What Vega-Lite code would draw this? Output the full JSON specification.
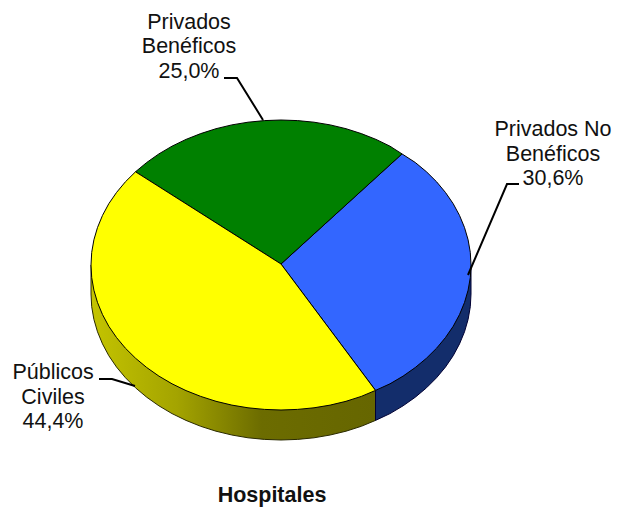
{"$schema":"https://vega.github.io/schema/vega-lite/v6.json","width":617,"height":513,"autosize":{"type":"fit","contains":"padding"},"padding":0,"background":"white","view":{"stroke":null},
"datasets":{
"sideY":[{"p":0,"x":281,"y":264},{"p":1,"x":91,"y":265},{"p":2,"x":91,"y":294},{"p":3,"x":91.7,"y":306.7},{"p":4,"x":93.9,"y":319.4},{"p":5,"x":97.5,"y":331.8},{"p":6,"x":102.5,"y":343.9},{"p":7,"x":108.8,"y":355.7},{"p":8,"x":116.5,"y":367},{"p":9,"x":125.4,"y":377.7},{"p":10,"x":135.5,"y":387.8},{"p":11,"x":146.7,"y":397.2},{"p":12,"x":158.9,"y":405.8},{"p":13,"x":172,"y":413.6},{"p":14,"x":186,"y":420.4},{"p":15,"x":200.7,"y":426.3},{"p":16,"x":216,"y":431.2},{"p":17,"x":231.8,"y":435},{"p":18,"x":248,"y":437.8},{"p":19,"x":264.4,"y":439.4},{"p":20,"x":281,"y":440},{"p":21,"x":297.6,"y":439.4},{"p":22,"x":314,"y":437.8},{"p":23,"x":330.2,"y":435},{"p":24,"x":346,"y":431.2},{"p":25,"x":361.3,"y":426.3},{"p":26,"x":375.5,"y":420.4},{"p":27,"x":375.5,"y":390.4},{"p":28,"x":281,"y":264}],
"sideB":[{"p":0,"x":281,"y":264},{"p":1,"x":375.5,"y":390.4},{"p":2,"x":375.5,"y":420.4},{"p":3,"x":390,"y":413.6},{"p":4,"x":403.1,"y":405.8},{"p":5,"x":415.3,"y":397.2},{"p":6,"x":426.5,"y":387.8},{"p":7,"x":436.6,"y":377.7},{"p":8,"x":445.5,"y":367},{"p":9,"x":453.2,"y":355.7},{"p":10,"x":459.5,"y":343.9},{"p":11,"x":464.5,"y":331.8},{"p":12,"x":468.1,"y":319.4},{"p":13,"x":470.3,"y":306.7},{"p":14,"x":471,"y":294},{"p":15,"x":471,"y":265},{"p":16,"x":281,"y":264}],
"top":[
{"s":"Privados No Benéficos","p":0,"x":281,"y":264},{"s":"Privados No Benéficos","p":1,"x":402,"y":153.9},{"s":"Privados No Benéficos","p":2,"x":415.3,"y":162.5},{"s":"Privados No Benéficos","p":3,"x":426.5,"y":171.8},{"s":"Privados No Benéficos","p":4,"x":436.6,"y":181.8},{"s":"Privados No Benéficos","p":5,"x":445.5,"y":192.5},{"s":"Privados No Benéficos","p":6,"x":453.2,"y":203.7},{"s":"Privados No Benéficos","p":7,"x":459.5,"y":215.4},{"s":"Privados No Benéficos","p":8,"x":464.5,"y":227.5},{"s":"Privados No Benéficos","p":9,"x":468.1,"y":239.8},{"s":"Privados No Benéficos","p":10,"x":470.3,"y":252.4},{"s":"Privados No Benéficos","p":11,"x":471,"y":265},{"s":"Privados No Benéficos","p":12,"x":470.3,"y":277.6},{"s":"Privados No Benéficos","p":13,"x":468.1,"y":290.2},{"s":"Privados No Benéficos","p":14,"x":464.5,"y":302.5},{"s":"Privados No Benéficos","p":15,"x":459.5,"y":314.6},{"s":"Privados No Benéficos","p":16,"x":453.2,"y":326.3},{"s":"Privados No Benéficos","p":17,"x":445.5,"y":337.5},{"s":"Privados No Benéficos","p":18,"x":436.6,"y":348.2},{"s":"Privados No Benéficos","p":19,"x":426.5,"y":358.2},{"s":"Privados No Benéficos","p":20,"x":415.3,"y":367.5},{"s":"Privados No Benéficos","p":21,"x":403.1,"y":376.1},{"s":"Privados No Benéficos","p":22,"x":390,"y":383.8},{"s":"Privados No Benéficos","p":23,"x":375.5,"y":390.4},{"s":"Privados No Benéficos","p":24,"x":281,"y":264},
{"s":"Privados Benéficos","p":0,"x":281,"y":264},{"s":"Privados Benéficos","p":1,"x":402,"y":153.9},{"s":"Privados Benéficos","p":2,"x":390,"y":146.2},{"s":"Privados Benéficos","p":3,"x":376,"y":139.4},{"s":"Privados Benéficos","p":4,"x":361.3,"y":133.6},{"s":"Privados Benéficos","p":5,"x":346,"y":128.7},{"s":"Privados Benéficos","p":6,"x":330.2,"y":124.9},{"s":"Privados Benéficos","p":7,"x":314,"y":122.2},{"s":"Privados Benéficos","p":8,"x":297.6,"y":120.6},{"s":"Privados Benéficos","p":9,"x":281,"y":120},{"s":"Privados Benéficos","p":10,"x":264.4,"y":120.6},{"s":"Privados Benéficos","p":11,"x":248,"y":122.2},{"s":"Privados Benéficos","p":12,"x":231.8,"y":124.9},{"s":"Privados Benéficos","p":13,"x":216,"y":128.7},{"s":"Privados Benéficos","p":14,"x":200.7,"y":133.6},{"s":"Privados Benéficos","p":15,"x":186,"y":139.4},{"s":"Privados Benéficos","p":16,"x":172,"y":146.2},{"s":"Privados Benéficos","p":17,"x":158.9,"y":153.9},{"s":"Privados Benéficos","p":18,"x":146.7,"y":162.5},{"s":"Privados Benéficos","p":19,"x":135.5,"y":171.8},{"s":"Privados Benéficos","p":20,"x":281,"y":264},
{"s":"Públicos Civiles","p":0,"x":281,"y":264},{"s":"Públicos Civiles","p":1,"x":135.5,"y":171.8},{"s":"Públicos Civiles","p":2,"x":125.4,"y":181.8},{"s":"Públicos Civiles","p":3,"x":116.5,"y":192.5},{"s":"Públicos Civiles","p":4,"x":108.8,"y":203.7},{"s":"Públicos Civiles","p":5,"x":102.5,"y":215.4},{"s":"Públicos Civiles","p":6,"x":97.5,"y":227.5},{"s":"Públicos Civiles","p":7,"x":93.9,"y":239.8},{"s":"Públicos Civiles","p":8,"x":91.7,"y":252.4},{"s":"Públicos Civiles","p":9,"x":91,"y":265},{"s":"Públicos Civiles","p":10,"x":91.7,"y":277.6},{"s":"Públicos Civiles","p":11,"x":93.9,"y":290.2},{"s":"Públicos Civiles","p":12,"x":97.5,"y":302.5},{"s":"Públicos Civiles","p":13,"x":102.5,"y":314.6},{"s":"Públicos Civiles","p":14,"x":108.8,"y":326.3},{"s":"Públicos Civiles","p":15,"x":116.5,"y":337.5},{"s":"Públicos Civiles","p":16,"x":125.4,"y":348.2},{"s":"Públicos Civiles","p":17,"x":135.5,"y":358.2},{"s":"Públicos Civiles","p":18,"x":146.7,"y":367.5},{"s":"Públicos Civiles","p":19,"x":158.9,"y":376.1},{"s":"Públicos Civiles","p":20,"x":172,"y":383.8},{"s":"Públicos Civiles","p":21,"x":186,"y":390.6},{"s":"Públicos Civiles","p":22,"x":200.7,"y":396.4},{"s":"Públicos Civiles","p":23,"x":216,"y":401.3},{"s":"Públicos Civiles","p":24,"x":231.8,"y":405.1},{"s":"Públicos Civiles","p":25,"x":248,"y":407.8},{"s":"Públicos Civiles","p":26,"x":264.4,"y":409.4},{"s":"Públicos Civiles","p":27,"x":281,"y":410},{"s":"Públicos Civiles","p":28,"x":297.6,"y":409.4},{"s":"Públicos Civiles","p":29,"x":314,"y":407.8},{"s":"Públicos Civiles","p":30,"x":330.2,"y":405.1},{"s":"Públicos Civiles","p":31,"x":346,"y":401.3},{"s":"Públicos Civiles","p":32,"x":361.3,"y":396.4},{"s":"Públicos Civiles","p":33,"x":375.5,"y":390.4},{"s":"Públicos Civiles","p":34,"x":281,"y":264}],
"leaders":[{"s":"a","p":0,"x":224,"y":78},{"s":"a","p":1,"x":237,"y":78},{"s":"a","p":2,"x":263,"y":120},{"s":"b","p":0,"x":519,"y":184},{"s":"b","p":1,"x":507,"y":184},{"s":"b","p":2,"x":468,"y":275},{"s":"c","p":0,"x":99,"y":379},{"s":"c","p":1,"x":112,"y":379},{"s":"c","p":2,"x":135,"y":386}],
"labels":[{"t":"Privados\nBenéficos\n25,0%","x":189,"y":22.5},{"t":"Privados No\nBenéficos\n30,6%","x":553,"y":130},{"t":"Públicos\nCiviles\n44,4%","x":53,"y":373}]
},
"encoding":{"x":{"field":"x","type":"quantitative","axis":null,"scale":{"domain":[0,617]}},"y":{"field":"y","type":"quantitative","axis":null,"scale":{"domain":[513,0]}}},
"layer":[
{"data":{"name":"sideY"},"mark":{"type":"line","strokeWidth":1,"stroke":"#2a2a00","fill":{"gradient":"linear","x1":0,"y1":0,"x2":1,"y2":0,"stops":[{"offset":0,"color":"#c4c400"},{"offset":0.3,"color":"#a4a400"},{"offset":0.6,"color":"#6c6c00"},{"offset":1,"color":"#666600"}]}},"encoding":{"order":{"field":"p","type":"quantitative"}}},
{"data":{"name":"sideB"},"mark":{"type":"line","strokeWidth":1,"stroke":"#000033","fill":"#132d6b"},"encoding":{"order":{"field":"p","type":"quantitative"}}},
{"data":{"name":"top"},"mark":{"type":"line","strokeWidth":1,"stroke":"black"},"encoding":{"order":{"field":"p","type":"quantitative"},"detail":{"field":"s"},"fill":{"field":"s","type":"nominal","legend":null,"scale":{"domain":["Privados No Benéficos","Privados Benéficos","Públicos Civiles"],"range":["#3366ff","#008000","#ffff00"]}}}},
{"data":{"name":"leaders"},"mark":{"type":"line","strokeWidth":2,"stroke":"black"},"encoding":{"order":{"field":"p","type":"quantitative"},"detail":{"field":"s"}}},
{"data":{"name":"labels"},"mark":{"type":"text","font":"Liberation Sans","fontSize":21.5,"lineHeight":24.5,"lineBreak":"\n","align":"center","baseline":"middle","color":"#111111"},"encoding":{"text":{"field":"t"}}},
{"data":{"values":[{"t":"Hospitales","x":272,"y":496}]},"mark":{"type":"text","font":"Liberation Sans","fontSize":21.5,"fontWeight":"bold","align":"center","baseline":"middle","color":"#111111"},"encoding":{"text":{"field":"t"}}}
]}
